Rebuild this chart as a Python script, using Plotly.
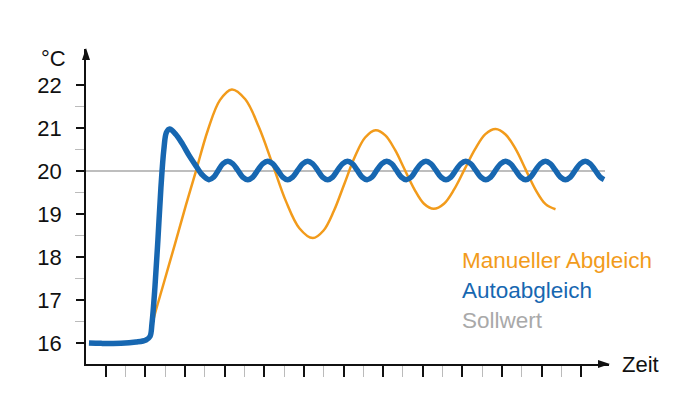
import plotly.graph_objects as go

# ---- data (time units: one minor tick = 1) ----
auto_x = [0.15, 0.76, 1.77, 2.52, 3.03, 3.23, 3.33, 3.48, 3.63, 3.78, 3.93, 4.06, 4.22,
          4.54, 4.88, 5.21, 5.55, 5.85, 6.20, 6.45, 6.68, 6.91,
          7.16, 7.41, 7.66, 7.91, 8.17, 8.42, 8.67, 8.92,
          9.17, 9.42, 9.68, 9.93, 10.18, 10.43, 10.69, 10.94,
          11.19, 11.44, 11.69, 11.94, 12.20, 12.45, 12.70, 12.95,
          13.20, 13.45, 13.69, 13.94, 14.19, 14.44, 14.68, 14.93,
          15.18, 15.43, 15.67, 15.92, 16.17, 16.42, 16.66, 16.91,
          17.16, 17.41, 17.66, 17.92, 18.17, 18.42, 18.67, 18.92,
          19.17, 19.42, 19.67, 19.93, 20.18, 20.43, 20.68, 20.93,
          21.18, 21.43, 21.68, 21.94, 22.19, 22.44, 22.69, 22.94,
          23.19, 23.44, 23.69, 23.95, 24.20, 24.45, 24.70, 24.95,
          25.20, 25.45, 25.70, 25.95, 26.15]
auto_y = [16.0, 15.99, 15.99, 16.02, 16.07, 16.15, 16.45, 17.3, 18.4, 19.6, 20.5, 20.9, 20.98,
          20.85, 20.62, 20.36, 20.12, 19.92, 19.80, 19.86, 20.02, 20.17,
          20.23, 20.17, 20.02, 19.86, 19.80, 19.86, 20.02, 20.17,
          20.23, 20.17, 20.02, 19.86, 19.80, 19.86, 20.02, 20.17,
          20.23, 20.17, 20.02, 19.86, 19.80, 19.86, 20.02, 20.17,
          20.23, 20.17, 20.02, 19.86, 19.80, 19.86, 20.02, 20.17,
          20.23, 20.17, 20.02, 19.86, 19.80, 19.86, 20.02, 20.17,
          20.23, 20.17, 20.02, 19.86, 19.80, 19.86, 20.02, 20.17,
          20.23, 20.17, 20.02, 19.86, 19.80, 19.86, 20.02, 20.17,
          20.23, 20.17, 20.02, 19.86, 19.80, 19.86, 20.02, 20.17,
          20.23, 20.17, 20.02, 19.86, 19.80, 19.86, 20.02, 20.17,
          20.23, 20.17, 20.02, 19.86, 19.80]

manual_x = [0.15, 1.77, 3.03, 3.23, 3.38, 3.93, 4.49, 5.04, 5.55, 6.15, 6.76,
            7.36, 8.04, 8.72, 9.41, 10.09, 10.77,
            11.45, 11.98, 12.51, 13.04, 13.56, 14.09,
            14.62, 15.11, 15.60, 16.09, 16.57, 17.06,
            17.55, 18.07, 18.59, 19.12, 19.64, 20.16,
            20.68, 21.18, 21.69, 22.19, 22.69, 23.20, 23.70]
manual_y = [16.0, 15.99, 16.07, 16.15, 16.5, 17.4, 18.3, 19.2, 20.0, 20.95, 21.65,
            21.9, 21.67, 21.03, 20.17, 19.30, 18.67,
            18.44, 18.61, 19.07, 19.70, 20.32, 20.78,
            20.95, 20.83, 20.49, 20.03, 19.58, 19.24,
            19.12, 19.24, 19.58, 20.05, 20.51, 20.86,
            20.98, 20.85, 20.51, 20.04, 19.57, 19.23, 19.11]

setpoint_x = [0, 26.2]
setpoint_y = [20, 20]

y_major = [16, 17, 18, 19, 20, 21, 22]
y_minor = [16.5, 17.5, 18.5, 19.5, 20.5, 21.5]
x_major = [1, 3, 5, 7, 9, 11, 13, 15, 17, 19, 21, 23, 25]
x_minor = [2, 4, 6, 8, 10, 12, 14, 16, 18, 20, 22, 24]

labels = ["Manueller Abgleich", "Autoabgleich", "Sollwert"]

ORANGE = "#F29B1B"
BLUE = "#1767B1"
GRAY = "#A9A9A9"
FONT = "Arial, Liberation Sans, sans-serif"

fig = go.Figure()
fig.add_trace(go.Scatter(x=setpoint_x, y=setpoint_y, mode="lines",
                         line=dict(color=GRAY, width=1.5), hoverinfo="skip"))
fig.add_trace(go.Scatter(x=manual_x, y=manual_y, mode="lines",
                         line=dict(color=ORANGE, width=2.5, shape="spline", smoothing=1.0)))
fig.add_trace(go.Scatter(x=auto_x, y=auto_y, mode="lines",
                         line=dict(color=BLUE, width=5.5, shape="spline", smoothing=1.0)))

fig.update_layout(
    width=700, height=420,
    margin=dict(l=78, r=99, t=41, b=64),
    paper_bgcolor="white", plot_bgcolor="white",
    showlegend=False,
    font=dict(family=FONT, color="#222222"),
    xaxis=dict(range=[0, 26.4], showgrid=False, zeroline=False,
               showline=True, linecolor="#111111", linewidth=1.5,
               tickmode="array", tickvals=x_major, ticktext=[""] * len(x_major),
               ticks="outside", ticklen=11, tickwidth=1.6, tickcolor="#111111",
               minor=dict(tickmode="array", tickvals=x_minor, ticks="outside",
                          ticklen=11, tickwidth=1.4, tickcolor="#BBBBBB")),
    yaxis=dict(range=[15.51, 22.84], showgrid=False, zeroline=False,
               showline=True, linecolor="#111111", linewidth=1.5,
               tickmode="array", tickvals=y_major,
               ticks="outside", ticklen=8, tickwidth=1.6, tickcolor="#111111",
               tickfont=dict(size=22, color="#111111"), ticklabelstandoff=10,
               minor=dict(tickmode="array", tickvals=y_minor, ticks="outside",
                          ticklen=9, tickwidth=1.4, tickcolor="#BBBBBB")),
)

# arrowheads
fig.add_shape(type="path", xref="paper", yref="paper", xsizemode="pixel", ysizemode="pixel",
              xanchor=0, yanchor=1, path="M -4,-11 L 0,1 L 4,-11 Z",
              fillcolor="#111111", line=dict(width=0))
fig.add_shape(type="path", xref="paper", yref="paper", xsizemode="pixel", ysizemode="pixel",
              xanchor=1, yanchor=0, path="M -11,4 L 1,0 L -11,-4 Z",
              fillcolor="#111111", line=dict(width=0))

fig.add_annotation(text="°C", xref="paper", yref="paper", x=0, y=1, xshift=-18, yshift=-9,
                   xanchor="right", yanchor="middle", showarrow=False,
                   font=dict(size=22, color="#111111"))
fig.add_annotation(text="Zeit", xref="paper", yref="paper", x=1, y=0, xshift=11,
                   xanchor="left", yanchor="middle", showarrow=False,
                   font=dict(size=22, color="#111111"))

for txt, col, yy in zip(labels, [ORANGE, BLUE, GRAY], [17.91, 17.23, 16.52]):
    fig.add_annotation(text=txt, x=18.9, y=yy, xref="x", yref="y", xanchor="left",
                       yanchor="middle", showarrow=False, font=dict(size=22.5, color=col))

fig.write_html("out.html")
